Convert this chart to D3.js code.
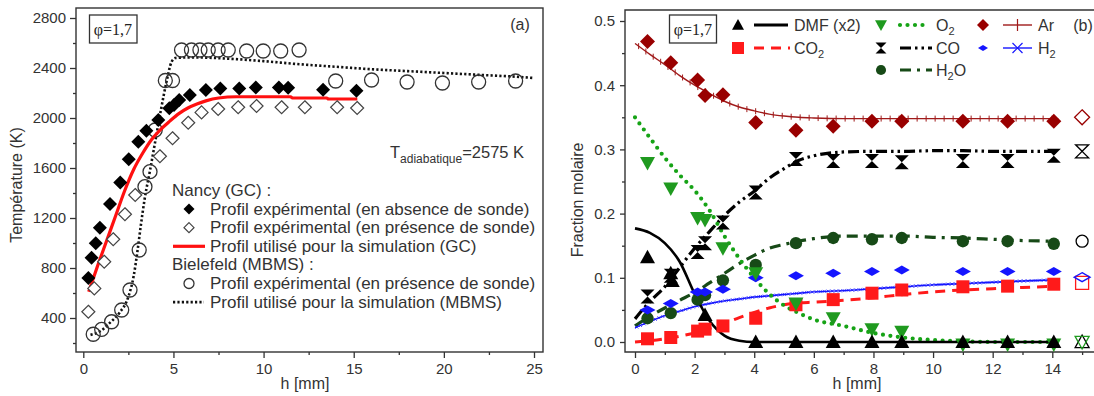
<!DOCTYPE html>
<html><head><meta charset="utf-8">
<script src="https://cdn.jsdelivr.net/npm/d3@7"></script>
<style>
body{margin:0;background:#fff;}
svg{display:block;font-family:"Liberation Sans",Arial,sans-serif;}
</style></head><body>
<svg id="c" width="1094" height="396"></svg>
<script>
// ===== Panel (a) data =====
const hAbs = [0.28,0.46,0.69,0.92,1.48,2.05,2.52,3.05,3.5,4.16,4.77,5.03,5.32,5.91,6.8,7.6,8.65,9.57,10.85,11.36,13.3,15.15];
const TAbs = [720,882,998,1122,1312,1485,1670,1811,1898,1984,2078,2104,2144,2184,2224,2237,2237,2245,2245,2242,2226,2218];
const hPres = [0.28,0.61,1.16,1.66,2.31,2.88,4.25,4.95,5.82,6.56,7.48,8.59,9.61,11.0,12.29,14.08,15.19];
const TPres = [450,637,850,1030,1230,1384,1694,1838,1962,2045,2072,2086,2096,2086,2086,2086,2080];
const hMbms = [0.55,1.02,1.57,2.13,2.59,3.1,3.42,3.7,3.99,4.55,4.95,5.45,6.0,6.47,6.93,7.48,8.04,9.06,9.98,10.95,11.97,14.0,15.99,17.96,19.92,21.93,23.98];
const TMbms = [270,309,370,464,624,944,1451,1571,1904,2300,2300,2544,2544,2544,2544,2544,2544,2536,2536,2536,2544,2296,2304,2288,2280,2288,2296];
const hSimGC = [0.3,0.8,1.3,1.8,2.3,2.8,3.3,3.8,4.3,4.8,5.3,5.8,6.3,6.8,7.5,8.5,11.5,11.6,13.5,13.6,15.2];
const TSimGC = [610,820,1020,1220,1420,1590,1720,1830,1910,1975,2035,2080,2112,2137,2160,2170,2170,2160,2160,2152,2152];
const hSimMB = [0.4,1.0,1.5,2.0,2.5,2.8,3.0,3.2,3.4,3.7,4.0,4.3,4.6,4.9,5.1,6,8,10,12,14,16,18,20,22,24,25];
const TSimMB = [265,300,365,440,570,740,930,1150,1350,1580,1820,2060,2280,2450,2480,2485,2475,2455,2430,2410,2390,2375,2360,2345,2330,2320];
const ticksA_y = [400,800,1200,1600,2000,2400,2800];
const ticksA_x = [0,5,10,15,20,25];
const legendA = ["Nancy (GC) :","Profil expérimental (en absence de sonde)","Profil expérimental (en présence de sonde)","Profil utilisé pour la simulation (GC)","Bielefeld (MBMS) :","Profil expérimental (en présence de sonde)","Profil utilisé pour la simulation (MBMS)"];

// ===== Panel (b) data =====
const hExp = [0.42,1.2,2.1,2.35,2.95,4.05,5.4,6.65,7.95,8.95,11.0,12.5,14.05];
const ArExp = [0.468,0.435,0.408,0.384,0.385,0.342,0.330,0.336,0.344,0.344,0.344,0.344,0.344];
const COExp = [0.071,0.103,0.140,0.154,0.186,0.233,0.285,0.282,0.282,0.280,0.282,0.282,0.290];
const O2Exp = [0.279,0.239,0.193,0.190,0.146,0.107,0.060,0.037,0.020,0.016,-0.004,-0.004,-0.004];
const CO2Exp = [0.005,0.007,0.017,0.020,0.025,0.037,0.058,0.066,0.076,0.081,0.086,0.087,0.090];
const H2Exp = [0.050,0.060,0.078,0.078,0.082,0.100,0.103,0.107,0.110,0.112,0.110,0.110,0.110];
const H2OExp = [0.037,0.045,0.066,0.073,0.096,0.120,0.154,0.162,0.160,0.162,0.157,0.157,0.153];
const hDMF = [0.42,1.2,1.25,2.35,4.05,5.4,6.65,7.95,8.95,11.0,12.5,14.05];
const DMFExp = [0.132,0.107,0.095,0.042,0,0,0,0,0,0,0,0];
const hRef = 15;
const refVals = {Ar:0.350, CO:0.297, H2O:0.157, H2:0.101, CO2:0.092, DMF:0.0, O2:0.0};

const hSim = [0,0.5,1,1.5,2,2.5,3,3.5,4,4.5,5,5.5,6,7,8,9,10,11,12,13,14.2];
const DMFSim = [0.177,0.170,0.154,0.125,0.075,0.033,0.010,0.002,0,0,0,0,0,0,0,0,0,0,0,0,0];
const O2Sim = [0.350,0.318,0.287,0.260,0.236,0.205,0.165,0.130,0.100,0.075,0.057,0.045,0.035,0.025,0.014,0.007,0.003,0.001,0,0,0];
const COSim = [0.036,0.063,0.086,0.116,0.146,0.172,0.197,0.218,0.235,0.255,0.270,0.283,0.290,0.296,0.297,0.297,0.298,0.298,0.297,0.297,0.297];
const CO2Sim = [0.000,0.002,0.005,0.009,0.014,0.021,0.029,0.038,0.046,0.053,0.058,0.061,0.062,0.065,0.069,0.074,0.078,0.081,0.083,0.085,0.087];
const H2Sim = [0.022,0.032,0.041,0.048,0.055,0.060,0.064,0.067,0.070,0.072,0.074,0.076,0.078,0.080,0.083,0.086,0.089,0.091,0.093,0.095,0.097];
const H2OSim = [0.025,0.040,0.053,0.065,0.077,0.092,0.107,0.122,0.135,0.146,0.152,0.157,0.161,0.165,0.165,0.165,0.163,0.162,0.160,0.158,0.157];
const ArSim = [0.465,0.448,0.432,0.415,0.400,0.387,0.375,0.366,0.360,0.355,0.352,0.350,0.349,0.348,0.348,0.348,0.348,0.348,0.348,0.348,0.348];
const ticksB_y = [0,0.1,0.2,0.3,0.4,0.5];
const ticksB_x = [0,2,4,6,8,10,12,14];

// ===== drawing =====
const svg = d3.select("#c");
const TXT = "#333";
const zip = (a,b)=>a.map((v,i)=>[v,b[i]]);

function styleAxis(g){
  g.select(".domain").remove();
  g.selectAll("line").attr("stroke","#333").attr("stroke-width",1.3);
  g.selectAll("text").attr("fill",TXT).style("font-size","15px").style("font-family","Liberation Sans, Arial, sans-serif");
}
const diamond = s=>`M0,${-s}L${s},0L0,${s}L${-s},0Z`;
const wdiamond = (w,h)=>`M0,${-h}L${w},0L0,${h}L${-w},0Z`;
const triUp = s=>`M0,${-s}L${s},${s*0.8}L${-s},${s*0.8}Z`;
const triDn = s=>`M0,${s}L${s},${-s*0.8}L${-s},${-s*0.8}Z`;
const hourglass = s=>`M${-s},${-s}L${s},${-s}L0,0Z M${-s},${s}L${s},${s}L0,0Z`;
const square = s=>`M${-s},${-s}H${s}V${s}H${-s}Z`;

// ---------- Panel A ----------
const xA = d3.scaleLinear().domain([0,25]).range([83.3,534]);
const yA = d3.scaleLinear().domain([400,2800]).range([318,18]);
const A = {l:76,r:543,t:8,b:352};
const gA = svg.append("g");
gA.append("rect").attr("x",A.l).attr("y",A.t).attr("width",A.r-A.l).attr("height",A.b-A.t).attr("fill","none").attr("stroke","#333").attr("stroke-width",1.4);

gA.append("g").attr("transform",`translate(${A.l},0)`)
  .call(d3.axisLeft(yA).tickValues(ticksA_y).tickSize(6).tickPadding(4).tickFormat(d3.format("d"))).call(styleAxis);
gA.append("g").attr("transform",`translate(${A.l},0)`)
  .call(d3.axisLeft(yA).tickValues(d3.range(200,2801,400)).tickSize(3).tickFormat("")).call(styleAxis);
gA.append("g").attr("transform",`translate(0,${A.b})`)
  .call(d3.axisBottom(xA).tickValues(ticksA_x).tickSize(6).tickPadding(5)).call(styleAxis);
gA.append("g").attr("transform",`translate(0,${A.b})`)
  .call(d3.axisBottom(xA).tickValues(d3.range(2.5,25,5)).tickSize(3).tickFormat("")).call(styleAxis);

gA.append("text").attr("transform","translate(22,185) rotate(-90)").attr("text-anchor","middle").attr("fill",TXT).style("font-size","16px").text("Température (K)");
gA.append("text").attr("x",305).attr("y",389).attr("text-anchor","middle").attr("fill",TXT).style("font-size","16px").text("h [mm]");

// lines
const lineA = d3.line().x(d=>xA(d[0])).y(d=>yA(d[1])).curve(d3.curveMonotoneX);
gA.append("path").attr("d",lineA(zip(hSimMB,TSimMB))).attr("fill","none").attr("stroke","#111").attr("stroke-width",2.6).attr("stroke-dasharray","2.2,2.2");
// circles
gA.append("g").selectAll("circle").data(zip(hMbms,TMbms)).join("circle")
  .attr("cx",d=>xA(d[0])).attr("cy",d=>yA(d[1])).attr("r",7).attr("fill","none").attr("stroke","#333").attr("stroke-width",1.3);
gA.append("path").attr("d",lineA(zip(hSimGC,TSimGC))).attr("fill","none").attr("stroke","#ff1010").attr("stroke-width",3.2);
gA.append("g").selectAll("path").data(zip(hPres,TPres)).join("path")
  .attr("transform",d=>`translate(${xA(d[0])},${yA(d[1])})`).attr("d",diamond(6.5)).attr("fill","#fff").attr("stroke","#444").attr("stroke-width",1.2);
gA.append("g").selectAll("path").data(zip(hAbs,TAbs)).join("path")
  .attr("transform",d=>`translate(${xA(d[0])},${yA(d[1])})`).attr("d",diamond(7)).attr("fill","#000");

// phi box
gA.append("rect").attr("x",89.5).attr("y",15).attr("width",47.5).attr("height",28).attr("fill","#fff").attr("stroke","#333").attr("stroke-width",1.3);
gA.append("text").attr("x",113).attr("y",35).attr("text-anchor","middle").attr("fill","#222").style("font-family","Liberation Serif, Times New Roman, serif").style("font-size","16px").text("φ=1,7");
gA.append("text").attr("x",520).attr("y",30).attr("text-anchor","middle").attr("fill",TXT).style("font-size","16px").text("(a)");
const tad = gA.append("text").attr("x",390).attr("y",158).attr("fill",TXT).style("font-size","16.5px");
tad.append("tspan").text("T");
tad.append("tspan").attr("dy",5).style("font-size","12px").text("adiabatique");
tad.append("tspan").attr("dy",-5).text("=2575 K");

// legend A
const legY0 = 196, legDy = 18.6;
legendA.forEach((t,i)=>{
  const isHead = (i===0||i===4);
  gA.append("text").attr("x",isHead?172:210).attr("y",legY0+i*legDy).attr("fill",TXT).style("font-size","17px").text(t);
});
const ly = i=>legY0+i*legDy-5.5;
gA.append("path").attr("transform",`translate(189,${ly(1)})`).attr("d",diamond(5.5)).attr("fill","#000");
gA.append("path").attr("transform",`translate(189,${ly(2)})`).attr("d",diamond(5)).attr("fill","#fff").attr("stroke","#444").attr("stroke-width",1.2);
gA.append("line").attr("x1",173).attr("x2",205).attr("y1",ly(3)).attr("y2",ly(3)).attr("stroke","#ff1010").attr("stroke-width",3.2);
gA.append("circle").attr("cx",189).attr("cy",ly(5)).attr("r",5).attr("fill","none").attr("stroke","#333").attr("stroke-width",1.3);
gA.append("line").attr("x1",173).attr("x2",204).attr("y1",ly(6)).attr("y2",ly(6)).attr("stroke","#111").attr("stroke-width",2.6).attr("stroke-dasharray","2.2,2.2");

// ---------- Panel B ----------
const xB = d3.scaleLinear().domain([0,14]).range([635,1052.3]);
const yB = d3.scaleLinear().domain([0,0.5]).range([342,21]);
const B = {l:625,r:1094,t:10,b:352};
const gB = svg.append("g");
gB.append("path").attr("d",`M${B.r},${B.t}H${B.l}V${B.b}H${B.r}`).attr("fill","none").attr("stroke","#333").attr("stroke-width",1.4);
gB.append("g").attr("transform",`translate(${B.l},0)`)
  .call(d3.axisLeft(yB).tickValues(ticksB_y).tickSize(5).tickPadding(5).tickFormat(d3.format(".1f"))).call(styleAxis);
gB.append("g").attr("transform",`translate(${B.l},0)`)
  .call(d3.axisLeft(yB).tickValues(d3.range(0.05,0.5,0.1)).tickSize(3).tickFormat("")).call(styleAxis);
gB.append("g").attr("transform",`translate(0,${B.b})`)
  .call(d3.axisBottom(xB).tickValues(ticksB_x).tickSize(6).tickPadding(5)).call(styleAxis);
gB.append("g").attr("transform",`translate(0,${B.b})`)
  .call(d3.axisBottom(xB).tickValues(d3.range(1,16,2)).tickSize(3).tickFormat("")).call(styleAxis);
gB.append("text").attr("transform","translate(583,200) rotate(-90)").attr("text-anchor","middle").attr("fill",TXT).style("font-size","16px").text("Fraction molaire");
gB.append("text").attr("x",857).attr("y",389).attr("text-anchor","middle").attr("fill",TXT).style("font-size","16px").text("h [mm]");

const lineB = d3.line().x(d=>xB(d[0])).y(d=>yB(d[1])).curve(d3.curveMonotoneX);
const C = {DMF:"#000", CO2:"#ff1a1a", O2:"#1f9a1f", O2line:"#16a316", CO:"#000", H2O:"#174a17", Ar:"#990000", Arline:"#a01a1a", H2:"#1515ff"};
const styles = {
  DMF:{c:C.DMF,w:2.6,da:null},
  CO2:{c:C.CO2,w:3,da:"10,7"},
  O2:{c:C.O2line,w:4.2,da:"0,7.5",cap:"round"},
  CO:{c:C.CO,w:3.2,da:"11,4,2.5,4,2.5,4"},
  H2O:{c:C.H2O,w:3.2,da:"11,6,3,6"},
  Ar:{c:C.Arline,w:1.4,da:null},
  H2:{c:C.H2,w:1.4,da:null}
};
function drawSim(key, vals){
  const s = styles[key];
  const p = gB.append("path").attr("d",lineB(zip(hSim,vals))).attr("fill","none").attr("stroke",s.c).attr("stroke-width",s.w);
  if(s.da) p.attr("stroke-dasharray",s.da);
  if(s.cap) p.attr("stroke-linecap",s.cap);
  return p;
}
function tickAlong(path, step, fn){
  const node = path.node(), L = node.getTotalLength();
  for(let l=step/2; l<L; l+=step){ const pt = node.getPointAtLength(l); fn(pt); }
}
function markers(hs, vs, d, fill, stroke, sw){
  gB.append("g").selectAll("path").data(zip(hs,vs)).join("path")
    .attr("transform",k=>`translate(${xB(k[0])},${yB(k[1])})`).attr("d",d)
    .attr("fill",fill).attr("stroke",stroke||"none").attr("stroke-width",sw||0);
}

// simulations
const arPath = drawSim("Ar", ArSim);
tickAlong(arPath, 9, pt=>gB.append("line").attr("x1",pt.x).attr("x2",pt.x).attr("y1",pt.y-3).attr("y2",pt.y+3).attr("stroke",C.Arline).attr("stroke-width",1));
drawSim("H2O", H2OSim);
drawSim("CO", COSim);
drawSim("CO2", CO2Sim);
const h2Path = drawSim("H2", H2Sim);
tickAlong(h2Path, 4, pt=>gB.append("path").attr("d",`M${pt.x-1.5},${pt.y-1.5}L${pt.x+1.5},${pt.y+1.5}M${pt.x-1.5},${pt.y+1.5}L${pt.x+1.5},${pt.y-1.5}`).attr("stroke",C.H2).attr("stroke-width",0.8));
drawSim("O2", O2Sim);
drawSim("DMF", DMFSim);

// experimental markers
markers(hExp, ArExp, diamond(7.5), C.Ar);
markers(hExp, H2OExp, d3.symbol(d3.symbolCircle, 120)(), C.H2O);
markers(hExp, H2Exp, wdiamond(8,4.5), C.H2);
markers(hExp, CO2Exp, square(6.5), C.CO2);
markers(hExp, COExp, hourglass(7), "#000");
markers(hExp, O2Exp, triDn(7.5), C.O2);
markers(hDMF, DMFExp, triUp(7.5), "#000");

// reference (hollow) markers at h=15
const xr = xB(hRef);
const ref = (v,d,stroke)=>gB.append("path").attr("transform",`translate(${xr},${yB(v)})`).attr("d",d).attr("fill","none").attr("stroke",stroke).attr("stroke-width",1.3);
ref(refVals.Ar, diamond(7.5), C.Ar);
ref(refVals.CO, hourglass(6.5), "#000");
gB.append("circle").attr("cx",xr).attr("cy",yB(refVals.H2O)).attr("r",6).attr("fill","none").attr("stroke","#000").attr("stroke-width",1.3);
ref(refVals.CO2, square(6.5), C.CO2);
ref(refVals.H2, wdiamond(8,4.5), C.H2);
ref(refVals.DMF, triUp(7), "#000");
ref(refVals.O2, triDn(7), C.O2);

// phi box B
gB.append("rect").attr("x",669.5).attr("y",15).attr("width",47).attr("height",28).attr("fill","#fff").attr("stroke","#333").attr("stroke-width",1.3);
gB.append("text").attr("x",693).attr("y",35).attr("text-anchor","middle").attr("fill","#222").style("font-family","Liberation Serif, Times New Roman, serif").style("font-size","16px").text("φ=1,7");
gB.append("text").attr("x",1083).attr("y",31).attr("text-anchor","middle").attr("fill",TXT).style("font-size","16px").text("(b)");

// legend B
const legB = [
  {k:"DMF", mx:738, lx:[754,788], tx:794, y:25, lab:[["DMF (x2)",0]], m:triUp(6), fill:"#000"},
  {k:"CO2", mx:738, lx:[754,790], tx:794, y:48, lab:[["CO",0],["2",1]], m:square(6), fill:C.CO2},
  {k:"O2", mx:881, lx:[900,930], tx:936, y:25, lab:[["O",0],["2",1]], m:triDn(6), fill:C.O2},
  {k:"CO", mx:881, lx:[900,932], tx:936, y:48, lab:[["CO",0]], m:hourglass(5.5), fill:"#000"},
  {k:"H2O", mx:881, lx:[900,932], tx:936, y:70, lab:[["H",0],["2",1],["O",2]], m:d3.symbol(d3.symbolCircle,80)(), fill:C.H2O},
  {k:"Ar", mx:983, lx:[1003,1032], tx:1038, y:25, lab:[["Ar",0]], m:diamond(6), fill:C.Ar},
  {k:"H2", mx:983, lx:[1003,1032], tx:1038, y:48, lab:[["H",0],["2",1]], m:wdiamond(5,3), fill:C.H2}
];
legB.forEach(L=>{
  gB.append("path").attr("transform",`translate(${L.mx},${L.y})`).attr("d",L.m).attr("fill",L.fill);
  const s = styles[L.k];
  const ln = gB.append("line").attr("x1",L.lx[0]).attr("x2",L.lx[1]).attr("y1",L.y).attr("y2",L.y).attr("stroke",s.c).attr("stroke-width",L.k==="DMF"?3:s.w);
  if(s.da) ln.attr("stroke-dasharray",s.da);
  if(s.cap) ln.attr("stroke-linecap",s.cap);
  const mid=(L.lx[0]+L.lx[1])/2;
  if(L.k==="Ar") gB.append("line").attr("x1",mid).attr("x2",mid).attr("y1",L.y-6).attr("y2",L.y+6).attr("stroke",C.Arline).attr("stroke-width",1.2);
  if(L.k==="H2") gB.append("path").attr("d",`M${mid-5},${L.y-5}L${mid+5},${L.y+5}M${mid-5},${L.y+5}L${mid+5},${L.y-5}`).attr("stroke",C.H2).attr("stroke-width",1.2);
  const t = gB.append("text").attr("x",L.tx).attr("y",L.y+6).attr("fill",TXT).style("font-size","16px");
  L.lab.forEach(([s,typ])=>{
    const ts=t.append("tspan").text(s);
    if(typ===1){ts.attr("dy",4).style("font-size","11px");}
    else if(typ===2){ts.attr("dy",-4);}
  });
});
</script></body></html>
